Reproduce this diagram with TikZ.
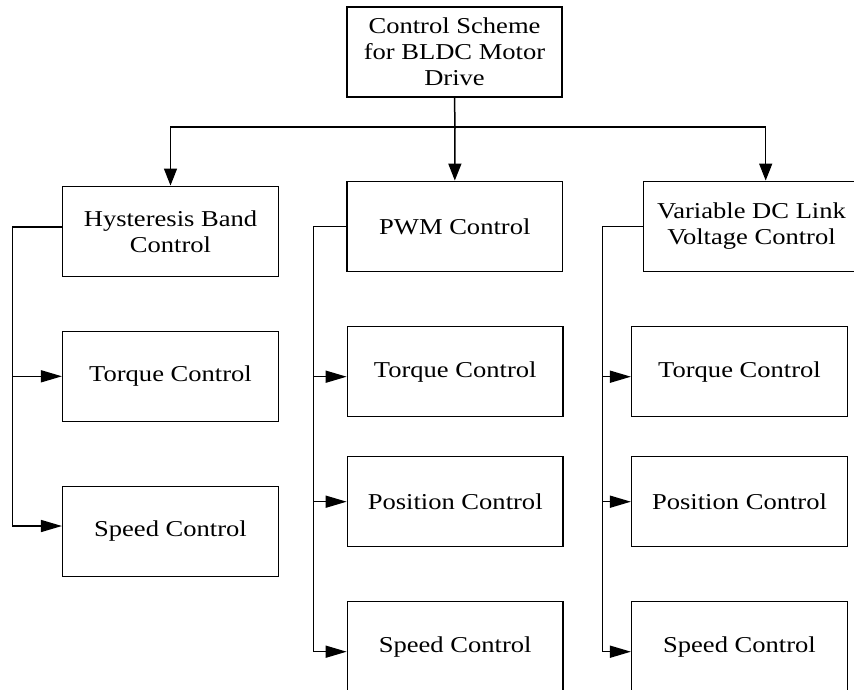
\documentclass[tikz,border=0pt]{standalone}
\usepackage{fontspec}
\setmainfont{Liberation Serif}[FakeStretch=1.17]
\usetikzlibrary{arrows.meta}
\begin{document}
\begin{tikzpicture}[x=1pt,y=-1pt,line width=1.5pt,
  box/.style={draw,minimum width=215.6pt,minimum height=90pt,inner sep=0pt,align=center,font=\fontsize{22.7}{26}\selectfont},
  varr/.style={-{Triangle[length=17pt,width=13pt]}},
  harr/.style={-{Triangle[length=21pt,width=12pt]}}]
\useasboundingbox (0,0) rectangle (854,690);
\clip (0,0) rectangle (854,690);
% nodes
\node[box,minimum width=215pt] (top) at (454.5,52) {Control Scheme\\for BLDC Motor\\Drive};
\node[box] (hyst) at (170.5,231.3) {Hysteresis Band\\Control};
\node[box] (pwm) at (454.8,226.3) {PWM Control};
\node[box] (vdc) at (751.5,226.3) {Variable DC Link\\Voltage Control};
\node[box] (ltq) at (170.5,376.3) {Torque Control};
\node[box] (lsp) at (170.5,531.3) {Speed Control};
\node[box] (mtq) at (455.2,371.7) {Torque Control};
\node[box] (mpo) at (455.2,501.7) {Position Control};
\node[box] (msp) at (455.2,646.7) {Speed Control};
\node[box] (rtq) at (739.5,371.7) {Torque Control};
\node[box] (rpo) at (739.5,501.7) {Position Control};
\node[box] (rsp) at (739.5,646.7) {Speed Control};
% coordinates
\coordinate (j) at (455,127);
\coordinate (lb) at (12.3,0);
\coordinate (mb) at (313.3,0);
\coordinate (rb) at (602.3,0);
\coordinate (hystout) at ([yshift=4.3pt]hyst.west);
\coordinate (vdcin) at ([xshift=14.2pt]vdc.north);
\coordinate (lspin) at ([yshift=5.3pt]lsp.west);
\coordinate (mtqin) at ([yshift=-5pt]mtq.west);
\coordinate (mspin) at ([yshift=-5pt]msp.west);
\coordinate (rtqin) at ([yshift=-5pt]rtq.west);
\coordinate (rspin) at ([yshift=-5pt]rsp.west);
% top connectors
\draw (top.south) -- (j);
\draw[varr] (j) -- (pwm.north);
\draw[varr] (j) -| (hyst.north);
\draw[varr] (j) -| (vdcin);
% left column
\draw[harr] (hystout) -- (hystout -| lb) |- (lspin);
\draw[harr] (ltq.west -| lb) -- (ltq.west);
% middle column
\draw[harr] (pwm.west) -- (pwm.west -| mb) |- (mspin);
\draw[harr] (mtqin -| mb) -- (mtqin);
\draw[harr] (mpo.west -| mb) -- (mpo.west);
% right column
\draw[harr] (vdc.west) -- (vdc.west -| rb) |- (rspin);
\draw[harr] (rtqin -| rb) -- (rtqin);
\draw[harr] (rpo.west -| rb) -- (rpo.west);
\end{tikzpicture}
\end{document}
